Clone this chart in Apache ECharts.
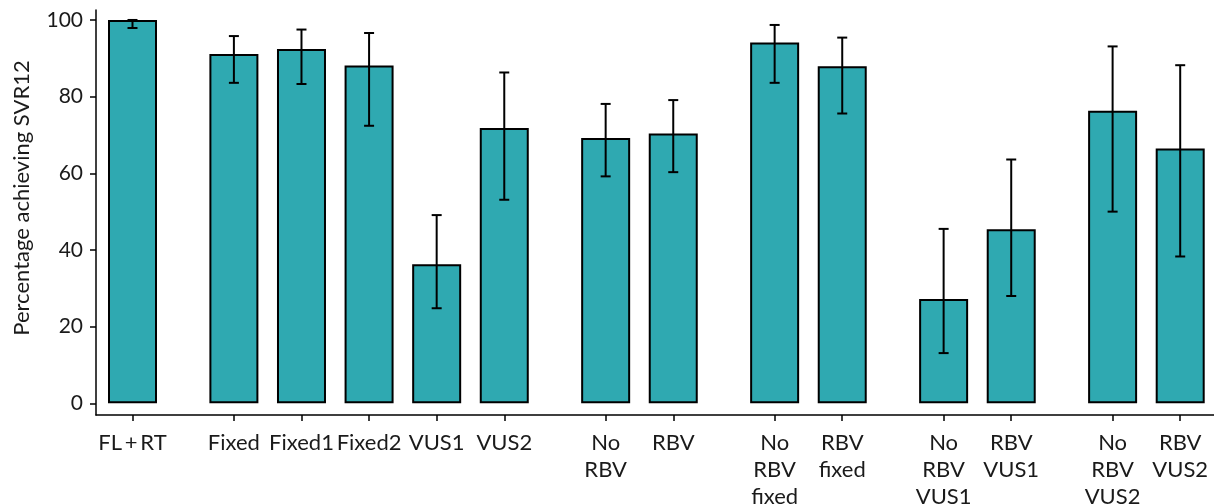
<!DOCTYPE html>
<html>
<head>
<meta charset="utf-8">
<script src="https://cdn.jsdelivr.net/npm/echarts@6/dist/echarts.min.js"></script>
<style>
  html, body { margin: 0; padding: 0; background: #fff; }
  #main { width: 1214px; height: 504px; }
</style>
</head>
<body>
<div id="main"></div>
<script>
// groups of bars, a wider gap is left between groups
const groups = [
  ['FL\u2009+\u2009RT'],
  ['Fixed', 'Fixed1', 'Fixed2', 'VUS1', 'VUS2'],
  ['No\nRBV', 'RBV'],
  ['No\nRBV\nfixed', 'RBV\nfixed'],
  ['No\nRBV\nVUS1', 'RBV\nVUS1'],
  ['No\nRBV\nVUS2', 'RBV\nVUS2']
];
const values = [100, 91.1, 92.4, 88.1, 36.3, 71.8, 69.2, 70.4, 94.1, 87.9, 27.2, 45.4, 76.3, 66.5];
const lower  = [97.9, 83.6, 83.3, 72.4, 24.8, 53.1, 59.2, 60.3, 83.6, 75.6, 13.1, 28.0, 50.0, 38.3];
const upper  = [100, 95.8, 97.5, 96.6, 49.1, 86.3, 78.1, 79.1, 98.7, 95.4, 45.5, 63.6, 93.1, 88.2];
const yTicks = [0, 20, 40, 60, 80, 100];

// x position of each bar: step 1 inside a group, 1.5 between groups
const labels = [];
const xPos = [];
let p = 0;
groups.forEach((g, gi) => {
  if (gi > 0) p += 0.5;
  g.forEach((name) => {
    labels.push(name);
    xPos.push(p);
    p += 1;
  });
});

const barData = values.map((v, i) => [xPos[i], v]);
const errData = values.map((v, i) => [xPos[i], lower[i], upper[i]]);

const font = 'Lato, "Noto Sans", sans-serif';
const mChart = echarts.init(document.getElementById('main'));

const options = {
  animation: false,
  grid: { left: 96, right: 0, top: 10, height: 405, outerBoundsMode: 'none', containLabel: false },
  xAxis: {
    type: 'value',
    min: -0.54,
    max: 16,
    splitLine: { show: false },
    axisLine: { show: true, onZero: false, lineStyle: { color: '#000', width: 1.5 } },
    axisTick: {
      show: true,
      customValues: xPos,
      length: 6,
      lineStyle: { color: '#000', width: 1.5 }
    },
    axisLabel: {
      customValues: xPos,
      formatter: (v) => {
        const i = xPos.findIndex((x) => Math.abs(x - v) < 1e-6);
        return i >= 0 ? labels[i] : '';
      },
      margin: 14,
      color: '#1a1a1a',
      fontFamily: font,
      fontSize: 22,
      lineHeight: 27,
      align: 'center',
      verticalAlign: 'top'
    }
  },
  yAxis: {
    type: 'value',
    min: -3.05,
    max: 102.6,
    splitLine: { show: false },
    axisLine: { show: true, onZero: false, lineStyle: { color: '#000', width: 1.5 } },
    axisTick: {
      show: true,
      customValues: yTicks,
      length: 6,
      lineStyle: { color: '#000', width: 1.5 }
    },
    axisLabel: {
      customValues: yTicks,
      margin: 13,
      color: '#1a1a1a',
      fontFamily: font,
      fontSize: 21
    }
  },
  graphic: [
    {
      type: 'text',
      x: 22,
      y: 198,
      rotation: Math.PI / 2,
      style: {
        text: 'Percentage achieving SVR12',
        fontFamily: font,
        fontSize: 22,
        fill: '#1a1a1a',
        align: 'center',
        verticalAlign: 'middle'
      }
    }
  ],
  series: [
    {
      type: 'bar',
      data: barData,
      barWidth: 49,
      itemStyle: {
        color: '#2FA9B1',
        borderColor: '#000',
        borderWidth: 2
      }
    },
    {
      type: 'custom',
      data: errData,
      z: 5,
      renderItem: (params, api) => {
        const x = api.value(0);
        const lo = api.coord([x, api.value(1)]);
        const hi = api.coord([x, api.value(2)]);
        const hw = 5;
        const style = { stroke: '#000', lineWidth: 2 };
        return {
          type: 'group',
          children: [
            { type: 'line', shape: { x1: lo[0], y1: lo[1], x2: hi[0], y2: hi[1] }, style },
            { type: 'line', shape: { x1: lo[0] - hw, y1: lo[1], x2: lo[0] + hw, y2: lo[1] }, style },
            { type: 'line', shape: { x1: hi[0] - hw, y1: hi[1], x2: hi[0] + hw, y2: hi[1] }, style }
          ]
        };
      }
    }
  ]
};
mChart.setOption(options);
</script>
</body>
</html>
